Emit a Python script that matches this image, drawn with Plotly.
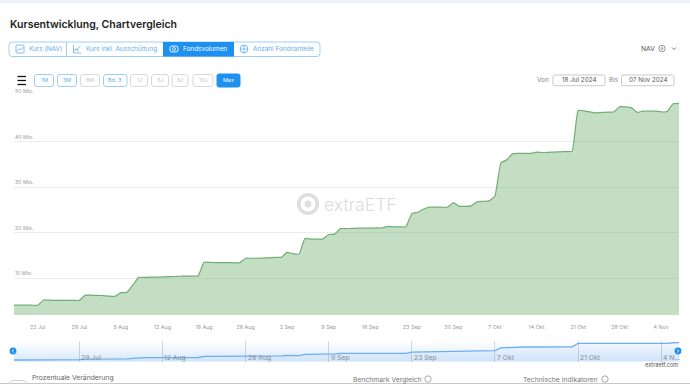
import pandas as pd
import plotly.graph_objects as go

W, H = 690, 384
dates = pd.date_range("2024-07-18", "2024-11-07", freq="D")
volume_mio = [
    4.1, 4.1, 4.1, 4.1, 4.1, 5.25, 5.2, 5.15, 5.15, 5.15, 5.15, 5.15,
    6.3, 6.3, 6.25, 6.2, 6.1, 6.05, 6.85, 6.9, 8.5, 10.2, 10.2, 10.25, 10.25,
    10.3, 10.35, 10.4, 10.45, 10.5, 10.5, 10.5, 13.5, 13.5, 13.45, 13.45, 13.45, 13.4, 13.4,
    14.4, 14.4, 14.4, 14.45, 14.5, 14.6, 14.6, 15.7, 15.4, 15.3, 18.75, 18.6, 18.6, 18.6,
    19.6, 19.7, 20.9, 20.9, 20.95, 21.0, 21.0, 21.0, 21.05, 21.05, 21.4, 21.3, 21.3, 21.3,
    24.2, 24.5, 25.2, 25.6, 25.6, 25.6, 25.6, 26.6, 25.8, 25.8, 25.9, 26.8, 26.9, 27.0,
    28.0, 35.3, 36.0, 37.35, 37.4, 37.4, 37.4, 37.7, 37.6, 37.65, 37.7, 37.75, 37.8, 37.85,
    46.8, 46.75, 46.5, 46.3, 46.4, 46.45, 46.5, 47.65, 47.6, 47.4, 46.4, 46.7, 46.7, 46.7,
    46.5, 46.6, 48.3, 48.4,
]
x_tick_dates = ["2024-07-22", "2024-07-29", "2024-08-05", "2024-08-12", "2024-08-19", "2024-08-26",
                "2024-09-02", "2024-09-09", "2024-09-16", "2024-09-23", "2024-09-30", "2024-10-07",
                "2024-10-14", "2024-10-21", "2024-10-28", "2024-11-04"]
x_tick_text = ["22 Jul", "29 Jul", "5 Aug", "12 Aug", "19 Aug", "26 Aug", "2 Sep", "9 Sep", "16 Sep",
               "23 Sep", "30 Sep", "7 Okt", "14 Okt", "21 Okt", "28 Okt", "4 Nov"]
y_tick_vals = [10, 20, 30, 40, 50]
y_tick_text = ["10 Mio.", "20 Mio.", "30 Mio.", "40 Mio.", "50 Mio."]
nav_tick_dates = ["2024-07-29", "2024-08-12", "2024-08-26", "2024-09-09", "2024-09-23",
                  "2024-10-07", "2024-10-21", "2024-11-04"]
nav_tick_text = ["29 Jul", "12 Aug", "26 Aug", "9 Sep", "23 Sep", "7 Okt", "21 Okt", "4 N..."]

FONT = "Inter"
px = lambda v: v / W
py = lambda v: 1 - v / H

fig = go.Figure()
fig.add_trace(go.Scatter(x=dates, y=volume_mio, mode="lines", xaxis="x", yaxis="y",
                         line=dict(color="#6fb076", width=1.2, shape="spline", smoothing=0.35),
                         fill="tozeroy", fillcolor="rgba(124,182,124,0.45)", hoverinfo="skip"))
# navigator background + line
fig.add_trace(go.Scatter(x=[dates[0], dates[-1]], y=[53, 53], mode="lines", xaxis="x2", yaxis="y2",
                         line=dict(width=0), fill="tozeroy", hoverinfo="skip",
                         fillgradient=dict(type="vertical",
                                           colorscale=[[0, "rgba(90,160,235,0.24)"], [1, "rgba(90,160,235,0.0)"]])))
fig.add_trace(go.Scatter(x=dates, y=volume_mio, mode="lines", xaxis="x2", yaxis="y2",
                         line=dict(color="#6cb0ee", width=1.3),
                         fill="tozeroy", fillcolor="rgba(90,160,235,0.06)", hoverinfo="skip"))

shapes, ann = [], []


def text(x, y, s, size=7, color="#666", anchor="left", weight=400, family=FONT):
    ann.append(dict(x=px(x), y=py(y), xref="paper", yref="paper", text=s, showarrow=False,
                    xanchor=anchor, yanchor="middle", borderpad=0,
                    font=dict(size=size, color=color, family=family, weight=weight)))


def rrect(x0, y0, x1, y1, r=2, fill="rgba(0,0,0,0)", line="#9ccff7", lw=1):
    X0, X1, Y0, Y1 = px(x0), px(x1), py(y0), py(y1)
    rx, ry = r / W, r / H
    path = (f"M{X0+rx},{Y0} L{X1-rx},{Y0} Q{X1},{Y0} {X1},{Y0-ry} L{X1},{Y1+ry} Q{X1},{Y1} {X1-rx},{Y1} "
            f"L{X0+rx},{Y1} Q{X0},{Y1} {X0},{Y1+ry} L{X0},{Y0-ry} Q{X0},{Y0} {X0+rx},{Y0} Z")
    shapes.append(dict(type="path", path=path, xref="paper", yref="paper", fillcolor=fill,
                       line=dict(color=line, width=lw), layer="above"))


def rect(x0, y0, x1, y1, fill, line=None, lw=0):
    shapes.append(dict(type="rect", xref="paper", yref="paper", x0=px(x0), x1=px(x1), y0=py(y0), y1=py(y1),
                       fillcolor=fill, line=dict(color=line or fill, width=lw), layer="above"))


def seg(x0, y0, x1, y1, color, lw=1):
    shapes.append(dict(type="line", xref="paper", yref="paper", x0=px(x0), x1=px(x1), y0=py(y0), y1=py(y1),
                       line=dict(color=color, width=lw), layer="above"))


def circ(cx, cy, r, fill="rgba(0,0,0,0)", line="rgba(0,0,0,0)", lw=0):
    shapes.append(dict(type="circle", xref="paper", yref="paper", x0=px(cx - r), x1=px(cx + r),
                       y0=py(cy + r), y1=py(cy - r), fillcolor=fill, line=dict(color=line, width=lw), layer="above"))


# y-axis labels sit above their grid lines, starting at the plot's left edge
for v, s in zip(y_tick_vals, y_tick_text):
    ann.append(dict(x=px(13.5), xref="paper", y=v, yref="y", text=s, showarrow=False, xanchor="left",
                    yanchor="bottom", yshift=1, borderpad=0, font=dict(size=5.2, color="#9a9a9a", family=FONT)))
# navigator labels sit right of their grid lines, near the bottom
for d, s in zip(nav_tick_dates, nav_tick_text):
    ann.append(dict(x=d, xref="x2", y=py(357.3), yref="paper", text=s, showarrow=False, xanchor="left",
                    yanchor="middle", xshift=1, borderpad=0, font=dict(size=6.8, color="#8a8f96", family=FONT)))

# page chrome
rect(0, 0, 690, 3.3, "#eef1fa")
rect(0, 383, 690, 384, "#c9c9c9")
text(8.5, 24, "Kursentwicklung, Chartvergleich", size=10.5, color="#222", weight=600)

# tab bar
BLUE = "#1e90f0"
TAB = "#62aeea"
rrect(9, 42, 320, 56.5, r=3)
rect(163, 42, 234, 56.5, BLUE)
seg(66.5, 42, 66.5, 56.5, "#9ccff7")
text(27.5, 49.3, "Kurs (NAV)", size=6.4, color=TAB)
text(85, 49.3, "Kurs inkl. Ausschüttung", size=6.4, color=TAB)
text(181.5, 49.3, "Fondsvolumen", size=6.4, color="#ffffff")
text(252, 49.3, "Anzahl Fondsanteile", size=6.4, color=TAB)
# tab icons
rrect(16, 45, 24, 53, r=1, line=TAB, lw=0.8)
seg(17, 51, 19.5, 48.5, TAB, 0.8)
seg(19.5, 48.5, 21, 50, TAB, 0.8)
seg(21, 50, 23.5, 47, TAB, 0.8)
seg(73.5, 45, 73.5, 53, TAB, 0.8)
seg(73.5, 53, 81, 53, TAB, 0.8)
seg(74.5, 51, 80.5, 46, TAB, 0.8)
seg(74.5, 49, 79, 50.5, TAB, 0.8)
rrect(170, 46, 178, 52, r=2, line="#ffffff", lw=0.9)
circ(174, 49, 1.5, line="#ffffff", lw=0.8)
circ(244, 49, 3.8, line=TAB, lw=0.9)
seg(244, 45, 244, 53, TAB, 0.7)
seg(240, 49, 248, 49, TAB, 0.7)

# NAV selector
text(639.5, 48.5, "NAV", size=6.8, color="#555")
circ(662, 48.5, 3.2, line="#777", lw=0.8)
circ(662, 48.5, 1, line="#777", lw=0.7)
seg(672, 47.5, 674, 49.5, "#555", 0.8)
seg(674, 49.5, 676, 47.5, "#555", 0.8)

# hamburger
for yy in (76.5, 80.5, 84.5):
    seg(17.5, yy, 26, yy, "#111", 1.3)

# range buttons
buttons = [("1M", 34.5, 53.5, 1), ("3M", 57.5, 76.5, 1), ("6M", 80.5, 99.5, 0), ("Bd. 3", 103.5, 127, 1),
           ("1J", 130.5, 147.5, 0), ("3J", 151.5, 168.5, 0), ("5J", 172, 188, 0), ("10J", 193, 213, 0)]
for label, x0, x1, on in buttons:
    rrect(x0, 74.5, x1, 86.5, r=2.5, line="#9ccff7" if on else "#d9d9d9")
    text((x0 + x1) / 2, 80.5, label, size=5.4, color="#62aeea" if on else "#c4c4c4", anchor="center")
rrect(217, 74, 240, 87, r=2, fill=BLUE, line=BLUE)
text(228.5, 80.5, "Max", size=5.4, color="#ffffff", anchor="center")

# date inputs
text(535.5, 80.3, "Von", size=6.4, color="#888")
rrect(553, 75, 605, 85.7, r=1.5, line="#c9c9c9")
text(579, 80.3, "18 Jul 2024", size=6.3, color="#555", anchor="center")
text(608, 80.3, "Bis", size=6.4, color="#888")
rrect(621.5, 75, 674, 85.7, r=1.5, line="#c9c9c9")
text(648, 80.3, "07 Nov 2024", size=6.3, color="#555", anchor="center")

# watermark
circ(308, 204, 9.3, line="#dfdfdf", lw=3.6)
circ(308, 204, 3.4, fill="#dfdfdf")
text(322.5, 204, "extraETF", size=17.6, color="#dcdcdc", weight=300)

# navigator handles: blue discs with a small white chevron
for cx, d in ((13, -1), (678, 1)):
    circ(cx, 351, 3.4, fill=BLUE)
    seg(cx - 0.8 * d, 349.3, cx + 0.8 * d, 351, "#ffffff", 0.8)
    seg(cx + 0.8 * d, 351, cx - 0.8 * d, 352.7, "#ffffff", 0.8)

# footer
text(679, 365, "extraetf.com", size=5.6, color="#555", anchor="right")
text(351.5, 379, "Benchmark Vergleich", size=6.8, color="#777")
circ(428, 379, 3.2, line="#888", lw=0.7)
text(521.5, 379, "Technische Indikatoren", size=6.8, color="#777")
circ(605, 379, 3.2, line="#888", lw=0.7)
rrect(9, 380.5, 27, 392, r=5, line="#cfcfcf")
text(31, 377.5, "Prozentuale Veränderung", size=6.8, color="#666")

fig.update_layout(
    width=W, height=H, autosize=False, showlegend=False,
    margin=dict(l=0, r=0, t=0, b=0), paper_bgcolor="#ffffff", plot_bgcolor="rgba(0,0,0,0)",
    font=dict(family=FONT, size=7, color="#999"),
    shapes=shapes, annotations=ann,
    xaxis=dict(domain=[px(14), px(679)], range=[dates[0], dates[-1]], type="date",
               tickmode="array", tickvals=x_tick_dates, ticktext=x_tick_text, showgrid=False, zeroline=False,
               ticks="outside", ticklen=7, tickcolor="rgba(0,0,0,0)", tickfont=dict(size=5.4, color="#9a9a9a"),
               showline=False, anchor="y"),
    yaxis=dict(domain=[py(315), py(96)], range=[1.95, 50], tickmode="array", tickvals=y_tick_vals,
               showticklabels=False, showgrid=True, gridcolor="#ececec",
               gridwidth=1, zeroline=False, showline=False, anchor="x"),
    xaxis2=dict(domain=[px(14), px(679)], range=[dates[0], dates[-1]], type="date", tickmode="array",
                tickvals=nav_tick_dates, showticklabels=False, showgrid=True, gridcolor="#d3d8de", gridwidth=1,
                zeroline=False, showline=False, ticks="", anchor="y2"),
    yaxis2=dict(domain=[py(362), py(341)], range=[-1, 52.8], showgrid=False, zeroline=False,
                showticklabels=False, showline=False, anchor="x2"),
)
fig.write_html("out.html", config={"displayModeBar": False},
               post_script="document.body.style.margin='0';document.body.style.overflow='hidden';")
